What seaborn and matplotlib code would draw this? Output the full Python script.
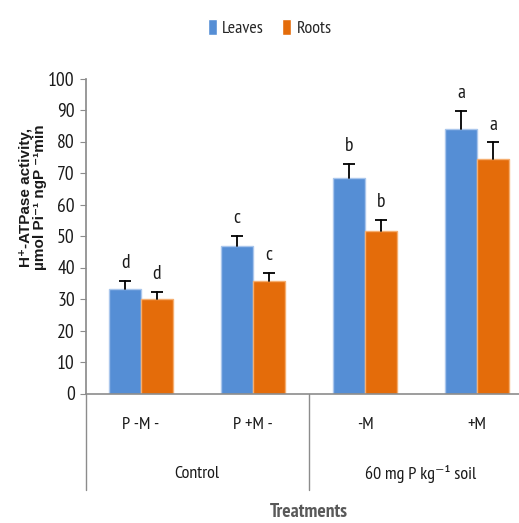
import pandas as pd
import seaborn as sns
import matplotlib.pyplot as plt
import matplotlib.transforms as mtransforms
from matplotlib.patches import Patch

# values
treatments = ['P -M -', 'P +M -', '-M', '+M']
groups = ['Control', '60 mg P kg\u207b\u00b9 soil']
leaves = [33.3, 46.7, 68.3, 84.0]
roots = [30.0, 35.7, 51.6, 74.6]
leaves_err = [2.5, 3.3, 4.6, 5.7]
roots_err = [2.2, 2.5, 3.6, 5.1]
leaves_letters = ['d', 'c', 'b', 'a']
roots_letters = ['d', 'c', 'b', 'a']

sns.set_theme(style='white')
plt.rcParams['font.family'] = ['PT Sans Narrow', 'DejaVu Sans']

blue = '#558ED5'
orange = '#E46C0A'

data = pd.DataFrame({
    'treatment': treatments * 2,
    'tissue': ['Leaves'] * 4 + ['Roots'] * 4,
    'value': leaves + roots,
})

fig = plt.figure(figsize=(5.19, 5.23), dpi=100)
ax = fig.add_axes([86 / 519, (523 - 393.5) / 523, 433 / 519, 315 / 523])

sns.barplot(data=data, x='treatment', y='value', hue='tissue', order=treatments,
            palette=[blue, orange], saturation=1, width=0.57, errorbar=None,
            legend=False, ax=ax)

# light outline on the bars + one sided error bars and letters
errs = leaves_err + roots_err
letters = leaves_letters + roots_letters
edge = {blue: '#A9C6EC', orange: '#F5AE70'}
for i, p in enumerate(ax.patches[:8]):
    col = blue if i < 4 else orange
    p.set_edgecolor(edge[col])
    p.set_linewidth(1)
    xc = p.get_x() + p.get_width() / 2
    h = p.get_height()
    ax.plot([xc, xc], [h, h + errs[i]], color='black', lw=1.3)
    ax.plot([xc], [h + errs[i]], marker='_', markersize=8, mew=1.3, color='black')
    ax.text(xc, h + errs[i] + 2.8, letters[i], ha='center', va='bottom',
            fontsize=14, color='#1a1a1a')

ax.set_xlim(-0.491, 3.375)
ax.set_ylim(0, 100)
ax.set_yticks(range(0, 101, 10))
ax.tick_params(axis='y', labelsize=14, colors='#1a1a1a', length=4, width=0.8,
               left=True, color='#8c8c8c', pad=4)
for s in ['top', 'right']:
    ax.spines[s].set_visible(False)
ax.spines['left'].set_color('#8c8c8c')
ax.spines['bottom'].set_color('#8c8c8c')
ax.spines['bottom'].set_linewidth(1.2)

# multi level category axis
ax.set_xticks([])
ax.set_xlabel('')
ax.set_ylabel('')
fig.text(33 / 519, 1 - 197 / 523,
         'H\u207a-ATPase activity,\n\u00b5mol Pi\u207b\u00b9 ngP \u207b\u00b9min',
         rotation=90, ha='center', va='center', fontsize=11, fontweight='bold',
         family=['Liberation Sans', 'DejaVu Sans'], linespacing=1.05,
         color='#1a1a1a')
trans = mtransforms.blended_transform_factory(ax.transData, ax.transAxes)
for i, t in enumerate(treatments):
    ax.text(i, -0.1, t, transform=trans, ha='center', va='center', fontsize=13,
            color='#1a1a1a')
for j, g in enumerate(groups):
    ax.text(0.5 + 2 * j, -0.255, g, transform=trans, ha='center', va='center',
            fontsize=13, color='#1a1a1a')
for xs in [-0.491, 1.5]:
    ax.plot([xs, xs], [0, -0.305], transform=trans, color='#8c8c8c', lw=1,
            clip_on=False)
ax.text(1.5, -0.375, 'Treatments', transform=trans, ha='center', va='center',
        fontsize=14, fontweight='bold', color='#595959')

handles = [Patch(facecolor=blue, label='Leaves'), Patch(facecolor=orange, label='Roots')]
fig.legend(handles=handles, loc='center', bbox_to_anchor=(0.52, 0.947), ncol=2,
           frameon=False, fontsize=13, handlelength=0.5, handleheight=1.0,
           handletextpad=0.3, columnspacing=1.0)

fig.savefig('out.png', dpi=100)
